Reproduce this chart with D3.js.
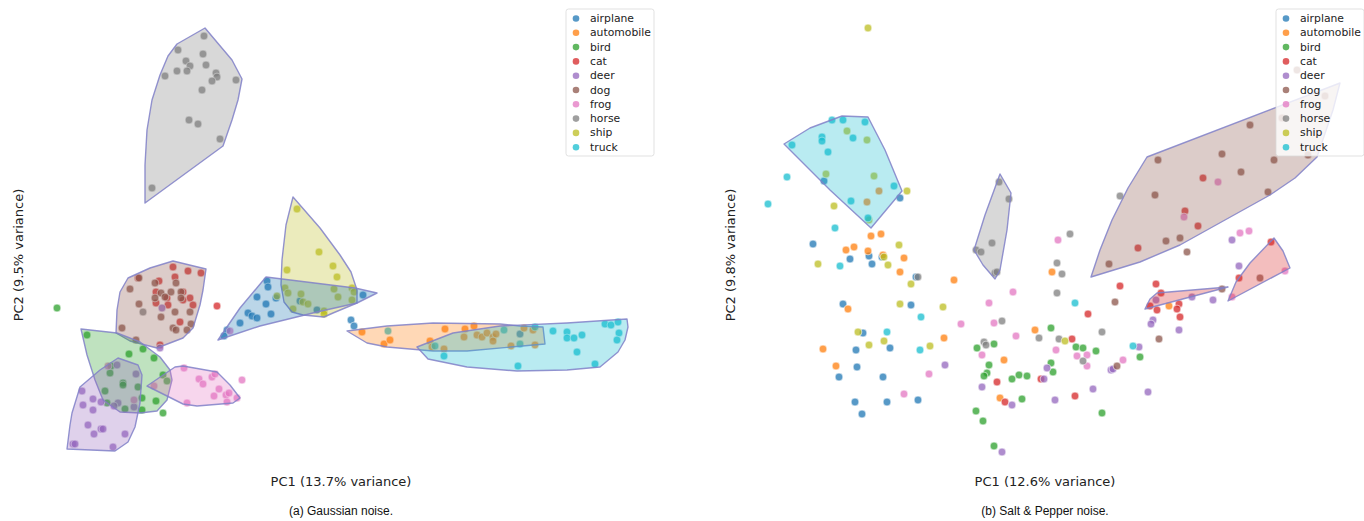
<!DOCTYPE html>
<html><head><meta charset="utf-8">
<script src="https://cdn.jsdelivr.net/npm/d3@7"></script>
<style>body{margin:0;background:#fff}svg{display:block}</style>
</head><body>
<svg id="chart" width="1364" height="521"></svg>
<script>
const classes = ["airplane","automobile","bird","cat","deer","dog","frog","horse","ship","truck"];
const colors = ["#1f77b4","#ff7f0e","#2ca02c","#d62728","#9467bd","#8c564b","#e377c2","#7f7f7f","#bcbd22","#17becf"];

// Panel (a) Gaussian noise: projected scores [class index, PC1, PC2] (screen-read units)
const gaussPoints = [
 ...[[267,281],[268,287],[257,297],[266,304],[276,298],[300,301],[317,310],[271,314],[248,313],[252,316],[257,318],[240,323],[227,330],[224,336],[363,295],[351,320],[354,326],[520,334]].map(p=>[0,...p]),
 ...[[362,332],[384,344],[390,340],[445,329],[465,329],[474,326],[430,341],[432,347],[444,349],[464,337],[477,335],[482,337],[487,333],[493,337],[496,334],[493,341],[511,346],[524,328],[533,330],[535,345]].map(p=>[1,...p]),
 ...[[57,308],[87,335],[129,354],[143,349],[154,358],[163,375],[167,381],[111,366],[110,373],[123,383],[123,385],[105,391],[138,387],[107,403],[125,409],[142,410],[156,401],[142,398],[163,413]].map(p=>[2,...p]),
 ...[[173,267],[188,271],[201,273],[175,277],[159,281],[138,278],[156,292],[167,298],[183,292],[190,298],[183,300],[193,305],[156,303],[168,305],[180,322],[160,345],[217,306]].map(p=>[3,...p]),
 ...[[162,308],[160,348],[117,365],[136,374],[82,391],[93,399],[101,402],[83,405],[93,410],[118,403],[114,406],[134,407],[88,425],[101,429],[103,429],[94,434],[125,434],[73,444],[75,444],[113,447]].map(p=>[4,...p]),
 ...[[139,278],[130,289],[155,283],[176,283],[161,293],[171,292],[181,292],[155,298],[165,297],[181,298],[139,304],[175,312],[190,312],[161,317],[191,324],[173,328],[176,330],[187,330],[122,328],[136,340]].map(p=>[5,...p]),
 ...[[108,366],[134,400],[154,386],[184,368],[199,379],[203,384],[212,377],[215,374],[219,389],[214,396],[226,395],[229,393],[237,398],[187,403],[227,402],[242,380],[230,331]].map(p=>[6,...p]),
 ...[[204,36],[178,50],[203,54],[186,61],[190,66],[206,65],[177,71],[187,71],[165,76],[216,73],[217,77],[212,81],[236,80],[202,90],[189,120],[198,124],[220,139],[152,188],[143,312]].map(p=>[7,...p]),
 ...[[297,209],[319,252],[287,270],[333,266],[337,277],[285,288],[288,293],[277,296],[301,294],[303,302],[308,304],[334,289],[338,297],[352,288],[354,292],[352,300],[293,309],[324,311],[324,314]].map(p=>[8,...p]),
 ...[[388,331],[435,346],[444,356],[504,330],[520,344],[535,327],[553,331],[567,332],[567,338],[574,338],[582,335],[577,352],[518,366],[595,364],[605,324],[611,325],[618,322],[619,333],[617,340]].map(p=>[9,...p])
];
const gaussHulls = [
 [7, [[205,28],[232,60],[242,79],[238,100],[232,120],[223,146],[145,203],[145,165],[147,130],[152,100],[160,75],[168,56],[177,44]]],
 [8, [[293,197],[320,228],[340,255],[351,272],[357,290],[357,303],[333,313],[324,317],[303,315],[292,312],[284,302],[281,285],[282,260],[286,225]]],
 [0, [[266,277],[355,288],[377,293],[357,303],[317,312],[260,326],[218,340],[240,308]]],
 [1, [[347,331],[367,343],[387,347],[433,351],[467,351],[545,344],[543,327],[520,326],[500,324],[433,323],[387,326]]],
 [9, [[417,347],[428,359],[467,367],[517,371],[567,370],[600,367],[618,352],[625,340],[628,327],[627,319],[567,323],[500,326],[453,333]]],
 [5, [[173,261],[206,269],[203,290],[200,305],[193,328],[183,338],[157,348],[130,341],[116,333],[117,310],[120,292],[128,278],[150,268]]],
 [2, [[81,329],[117,333],[140,342],[160,357],[170,370],[172,380],[167,400],[157,411],[140,413],[120,412],[103,400],[95,380],[87,355]]],
 [4, [[118,358],[138,365],[142,375],[140,403],[135,427],[128,442],[115,451],[67,449],[70,425],[72,413],[80,387],[100,370]]],
 [6, [[147,386],[175,367],[183,366],[217,372],[230,385],[240,398],[233,403],[197,406],[183,404]]]
];

// Panel (b) Salt & Pepper noise
const spPoints = [
 ...[[824,181],[900,198],[813,244],[869,256],[850,259],[872,264],[882,257],[916,277],[843,304],[911,305],[863,333],[890,348],[856,350],[857,367],[839,377],[883,377],[855,402],[887,402],[918,400],[862,414]].map(p=>[0,...p]),
 ...[[879,191],[867,202],[871,236],[881,234],[846,250],[854,247],[868,251],[883,255],[904,258],[900,272],[954,280],[848,309],[823,349],[836,366],[944,338],[1004,360],[1035,330],[1052,272],[1000,398],[1169,306]].map(p=>[1,...p]),
 ...[[977,348],[994,344],[989,365],[987,373],[984,376],[976,411],[983,421],[994,446],[1012,379],[1019,375],[1027,376],[1022,399],[1051,328],[1051,363],[1053,372],[1076,347],[1083,348],[1096,351],[1102,413],[1140,357]].map(p=>[2,...p]),
 ...[[997,382],[1005,402],[1041,379],[1072,339],[1088,314],[1075,396],[1120,286],[1138,248],[1156,284],[1161,293],[1150,306],[1157,310],[1179,304],[1177,309],[1180,317],[1203,178],[1185,211],[1198,226],[1271,242],[1239,278]].map(p=>[3,...p]),
 ...[[945,365],[982,387],[1002,452],[1012,405],[1044,379],[1047,368],[1055,400],[1093,389],[1111,370],[1113,369],[1139,347],[1148,392],[1153,320],[1151,324],[1156,300],[1179,330],[1192,297],[1213,300],[1232,240],[1239,266]].map(p=>[4,...p]),
 ...[[1109,264],[1115,302],[1117,366],[1159,339],[1158,160],[1222,154],[1250,125],[1274,160],[1241,172],[1155,195],[1268,192],[1166,241],[1180,238],[1187,252],[1308,155],[1325,96],[1297,70],[1282,118],[1222,289],[1260,278]].map(p=>[5,...p]),
 ...[[1013,292],[989,303],[994,323],[961,324],[1016,336],[982,355],[1058,240],[1056,350],[1077,356],[1087,355],[1087,366],[1123,360],[929,374],[904,394],[1218,182],[1184,217],[1240,233],[1249,231],[1232,297],[1285,271]].map(p=>[6,...p]),
 ...[[999,182],[1009,199],[992,243],[976,250],[981,252],[995,273],[997,272],[918,277],[1002,321],[984,342],[986,345],[1070,234],[1057,263],[1062,274],[1057,293],[1039,338],[1059,339],[1083,361],[1102,332],[1120,196]].map(p=>[7,...p]),
 ...[[868,28],[847,131],[867,140],[826,174],[874,176],[907,191],[834,206],[869,220],[899,245],[884,257],[818,264],[888,265],[911,284],[900,304],[943,307],[858,332],[869,345],[884,341],[930,346],[1065,341]].map(p=>[8,...p]),
 ...[[832,120],[843,120],[865,122],[822,137],[822,141],[792,145],[853,138],[828,152],[894,186],[851,201],[868,218],[787,177],[768,204],[835,228],[840,266],[921,317],[887,332],[920,350],[1075,303],[1133,346]].map(p=>[9,...p])
];
const spHulls = [
 [9, [[784,144],[810,128],[842,116],[868,117],[885,150],[902,191],[871,228],[830,190],[795,155]]],
 [7, [[1000,174],[1011,193],[1007,230],[1000,270],[995,279],[983,265],[974,250],[985,215]]],
 [5, [[1091,277],[1100,250],[1112,220],[1128,188],[1147,157],[1340,83],[1333,110],[1317,157],[1295,178],[1270,195],[1180,245],[1140,262]]],
 [3, [[1145,309],[1150,299],[1157,293],[1228,287]]],
 [3, [[1274,238],[1283,251],[1290,268],[1228,301],[1236,282],[1250,263]]]
];

const panels = [
 {points: gaussPoints, hulls: gaussHulls, dom:[0,682], rng:[0,682], xlab:"PC1 (13.7% variance)", ylab:"PC2 (9.5% variance)", cap:"(a) Gaussian noise.", cx:341, ylx:18, legX:566},
 {points: spPoints, hulls: spHulls, dom:[682,1364], rng:[682,1364], xlab:"PC1 (12.6% variance)", ylab:"PC2 (9.8% variance)", cap:"(b) Salt & Pepper noise.", cx:1045, ylx:730, legX:1276}
];

const svg = d3.select("#chart");
panels.forEach(p => {
  const x = d3.scaleLinear().domain(p.dom).range(p.rng);
  const y = d3.scaleLinear().domain([0,521]).range([0,521]);
  const g = svg.append("g");
  g.selectAll("circle.pt").data(p.points).join("circle")
    .attr("cx", d=>x(d[1])).attr("cy", d=>y(d[2])).attr("r", 3.9)
    .attr("fill", d=>colors[d[0]]).attr("fill-opacity", 0.75)
    .attr("stroke", "#fff").attr("stroke-width", 0.6);
  const line = d3.line().x(d=>x(d[0])).y(d=>y(d[1])).curve(d3.curveLinearClosed);
  g.selectAll("path.hull").data(p.hulls).join("path")
    .attr("d", d=>line(d[1]))
    .attr("fill", d=>colors[d[0]]).attr("fill-opacity", 0.3)
    .attr("stroke", "#8080c8").attr("stroke-opacity", 0.85).attr("stroke-width", 1.4)
    .attr("stroke-linejoin","round");
  g.append("text").attr("x", p.cx).attr("y", 486).attr("text-anchor","middle")
    .attr("font-family","DejaVu Sans").attr("font-size",13).attr("fill","#222").text(p.xlab);
  g.append("text").attr("transform",`translate(${p.ylx},255) rotate(-90)`).attr("text-anchor","middle")
    .attr("font-family","DejaVu Sans").attr("font-size",13).attr("fill","#222").attr("dy","0.35em").text(p.ylab);
  g.append("text").attr("x", p.cx).attr("y", 515).attr("text-anchor","middle")
    .attr("font-family","Liberation Sans").attr("font-size",12).attr("fill","#111").text(p.cap);
  const leg = g.append("g").attr("transform",`translate(${p.legX},9)`);
  leg.append("rect").attr("x",0).attr("y",0).attr("width",88).attr("height",147).attr("rx",2.5)
    .attr("fill","#fff").attr("fill-opacity",0.8).attr("stroke","#d9d9d9").attr("stroke-width",0.8);
  const rows = leg.selectAll("g.row").data(classes).join("g").attr("transform",(d,i)=>`translate(0,${9.5+i*14.3})`);
  rows.append("circle").attr("cx",10).attr("cy",0).attr("r",3.3).attr("fill",(d,i)=>colors[i]).attr("fill-opacity",0.75);
  rows.append("text").attr("x",24).attr("y",0).attr("dy","0.33em").attr("font-family","DejaVu Sans").attr("font-size",10.8).attr("fill","#222").text(d=>d);
});
</script>
</body></html>
